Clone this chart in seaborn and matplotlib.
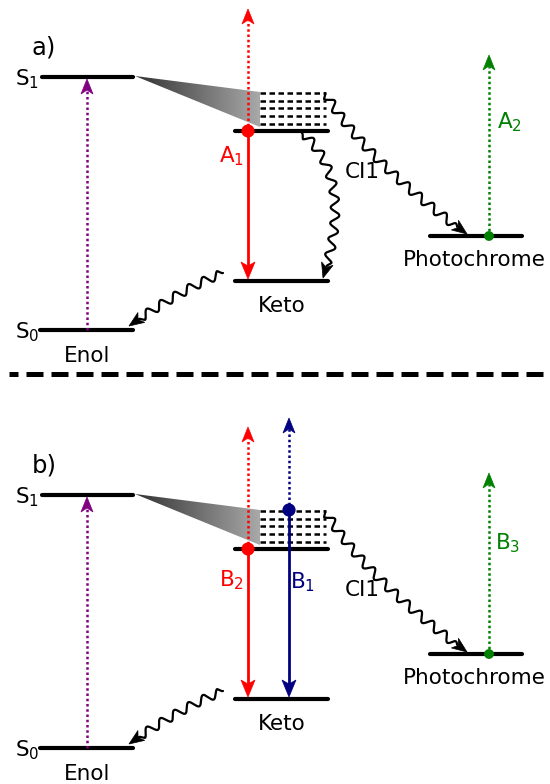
import numpy as np
import matplotlib
matplotlib.use("Agg")
import matplotlib.pyplot as plt
import seaborn as sns
from matplotlib.patches import Polygon

sns.set_theme(style="white")
plt.rcParams['font.family'] = ['DejaVu Sans']
plt.rcParams['mathtext.fontset'] = 'dejavusans'
plt.rcParams['text.color'] = 'black'

# ---- data: level energies (vertical position inside a panel, px from panel top) ----
level_names = ["Enol S1", "Enol S0", "Keto S1", "Keto S0", "Photochrome"]
level_y = [77, 330, 131, 281, 236]
level_x0 = [42, 40, 235, 235, 430]
level_x1 = [133, 133, 328, 328, 522]
vib_y = [93, 100.5, 108, 115.5, 123.5]          # vibrational (dashed) keto S1 levels
panel_offsets = [0, 418]
panel_tags = ["a)", "b)"]

W, H = 550, 784
fig = plt.figure(figsize=(5.5, 7.84), dpi=100)
ax = fig.add_axes([0, 0, 1, 1])
ax.set_xlim(0, W)
ax.set_ylim(H, 0)
ax.axis("off")

RED, PURPLE, GREEN, NAVY = "#ff0000", "#800080", "#008000", "#000080"
FS = 15.5


def head(tip, d, color, L=15, Wd=12, notch=4, z=5):
    d = np.asarray(d, float); d = d / np.hypot(*d)
    n = np.array([-d[1], d[0]])
    tip = np.asarray(tip, float)
    back = tip - d * L
    pts = [tip, back + n * Wd / 2, tip - d * (L - notch), back - n * Wd / 2]
    ax.add_patch(Polygon(pts, closed=True, fc=color, ec=color, lw=0.5, zorder=z))


def varrow(x, y0, y1, color, dotted=False, L=15, Wd=12):
    d = np.sign(y1 - y0)
    ls = (0, (1, 1.1)) if dotted else "-"
    lw = 1.8 if dotted else 2.0
    ax.plot([x, x], [y0, y1 - d * (L - 4)], color=color, lw=lw, ls=ls,
            solid_capstyle="butt", dash_capstyle="butt", zorder=4)
    head((x, y1), (0, d), color, L=L, Wd=Wd)


def wavy(p0, p1, p2, amp=4.3, wl=16, L=15, Wd=12):
    p0, p1, p2 = map(lambda p: np.asarray(p, float), (p0, p1, p2))
    t = np.linspace(0, 1, 800)[:, None]
    P = (1 - t) ** 2 * p0 + 2 * (1 - t) * t * p1 + t ** 2 * p2
    seg = np.diff(P, axis=0)
    s = np.concatenate([[0], np.cumsum(np.hypot(seg[:, 0], seg[:, 1]))])
    total = s[-1]
    keep = s <= total - (L - 3)
    P, s = P[keep], s[keep]
    tang = np.gradient(P, axis=0)
    tang /= np.hypot(tang[:, 0], tang[:, 1])[:, None]
    nrm = np.stack([-tang[:, 1], tang[:, 0]], axis=1)
    env = np.clip(s / 5, 0, 1) * np.clip((s[-1] - s) / 5, 0, 1)
    off = amp * np.sin(2 * np.pi * s / wl) * env
    Q = P + nrm * off[:, None]
    ax.plot(Q[:, 0], Q[:, 1], color="black", lw=1.6, zorder=4, solid_capstyle="round")
    d_end = p2 - P[-1]
    head(p2, d_end, "black", L=L, Wd=Wd)


def gradient_wedge(tip, x_right, y_top, y_bot):
    grad = np.linspace(0.2, 0.66, 256)[None, :]
    im = ax.imshow(grad, cmap="gray", vmin=0, vmax=1, aspect="auto",
                   extent=(tip[0], x_right, y_bot, y_top - 20), zorder=2)
    poly = Polygon([tip, (x_right, y_top), (x_right, y_bot)], closed=True,
                   fc="none", ec="none", transform=ax.transData)
    ax.add_patch(poly)
    im.set_clip_path(poly)


for k, off in enumerate(panel_offsets):
    Y = lambda v: v + off
    ax.text(44, Y(47), panel_tags[k], fontsize=17.5, ha="center", va="center", color="black")

    # levels
    for i in range(len(level_names)):
        ax.plot([level_x0[i], level_x1[i]], [Y(level_y[i])] * 2, color="black",
                lw=3.0, solid_capstyle="round", zorder=3)
    for vy in vib_y:
        ax.plot([260, 326], [Y(vy)] * 2, color="black", lw=1.8,
                ls=(0, (2.2, 1.4)), dash_capstyle="butt", zorder=3)

    gradient_wedge((135, Y(76)), 260, Y(92), Y(127))

    # labels
    ax.text(39, Y(79), r"S$_1$", fontsize=FS, ha="right", va="center")
    ax.text(39, Y(332), r"S$_0$", fontsize=FS, ha="right", va="center")
    ax.text(87, Y(356), "Enol", fontsize=FS, ha="center", va="center")
    ax.text(282, Y(306), "Keto", fontsize=FS, ha="center", va="center")
    ax.text(474, Y(260), "Photochrome", fontsize=FS, ha="center", va="center")
    ax.text(362, Y(172), "CI1", fontsize=FS, ha="center", va="center")

    # purple excitation
    varrow(87, Y(330), Y(79), PURPLE, dotted=True)

    # red (keto S1) transitions
    varrow(248, Y(131), Y(279), RED, L=17, Wd=14)
    varrow(248, Y(131), Y(9), RED, dotted=True)
    # green photochrome absorption
    varrow(489, Y(236), Y(55), GREEN, dotted=True)

    # wavy relaxations
    wavy((325, Y(93)), (365, Y(160)), (467, Y(234)))
    wavy((223, Y(273)), (180, Y(290)), (129, Y(326)))

    dots_x, dots_y, dots_c = [248, 489], [Y(131), Y(236)], [RED, GREEN]
    if k == 0:
        wavy((302, Y(133)), (355, Y(178)), (323, Y(278)))
        ax.text(232, Y(156), r"A$_1$", fontsize=FS, ha="center", va="center", color=RED)
        ax.text(510, Y(122), r"A$_2$", fontsize=FS, ha="center", va="center", color=GREEN)
    else:
        varrow(289, Y(92), Y(279), NAVY, L=17, Wd=14)
        varrow(289, Y(92), Y(0), NAVY, dotted=True)
        dots_x.append(289); dots_y.append(Y(92)); dots_c.append(NAVY)
        ax.text(232, Y(162), r"B$_2$", fontsize=FS, ha="center", va="center", color=RED)
        ax.text(303, Y(164), r"B$_1$", fontsize=FS, ha="center", va="center", color=NAVY)
        ax.text(508, Y(125), r"B$_3$", fontsize=FS, ha="center", va="center", color=GREEN)

    sizes = [90 if c != GREEN else 50 for c in dots_c]
    sns.scatterplot(x=dots_x, y=dots_y, hue=dots_c, palette={c: c for c in dots_c},
                    s=sizes, legend=False, ax=ax, zorder=6, linewidth=0)

# separator
ax.plot([9, W], [374, 374], color="black", lw=3.6, ls=(1.6, (3.4, 1.6)), dash_capstyle="butt")

ax.set_xlim(0, W)
ax.set_ylim(H, 0)
fig.savefig("out.png", dpi=100)
